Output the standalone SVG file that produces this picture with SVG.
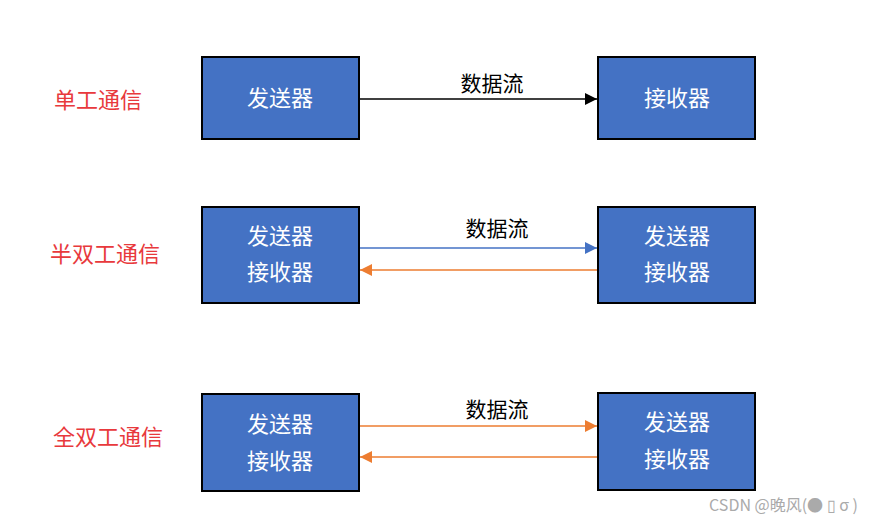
<svg xmlns="http://www.w3.org/2000/svg" width="873" height="524" viewBox="0 0 873 524">
<style>
.box{fill:#4472c4;stroke:#000;stroke-width:2}
.bt{font-family:"Noto Sans CJK SC",sans-serif;font-size:22px;fill:#fff;text-anchor:middle}
.lb{font-family:"Noto Sans CJK SC",sans-serif;font-size:22px;fill:#e8393c;text-anchor:middle}
.ft{font-family:"Noto Sans CJK SC",sans-serif;font-size:21px;fill:#000;text-anchor:middle}
</style>
<defs>
<marker id="mk" viewBox="0 0 10 10" refX="10" refY="5" markerWidth="12" markerHeight="12" markerUnits="userSpaceOnUse" orient="auto"><path d="M0,0L10,5L0,10z" fill="#000"/></marker>
<marker id="mb" viewBox="0 0 10 10" refX="10" refY="5" markerWidth="12" markerHeight="12" markerUnits="userSpaceOnUse" orient="auto"><path d="M0,0L10,5L0,10z" fill="#4472c4"/></marker>
<marker id="mo" viewBox="0 0 10 10" refX="10" refY="5" markerWidth="12" markerHeight="12" markerUnits="userSpaceOnUse" orient="auto"><path d="M0,0L10,5L0,10z" fill="#ed7d31"/></marker>
</defs>
<rect width="873" height="524" fill="#fff"/>
<text class="lb" x="98" y="108">单工通信</text>
<text class="lb" x="105" y="262">半双工通信</text>
<text class="lb" x="108" y="445">全双工通信</text>
<g id="s1"><rect class="box" x="202" y="57" width="157" height="82"/><text class="bt" x="280" y="106">发送器</text></g>
<g id="r1"><rect class="box" x="598" y="57" width="157" height="82"/><text class="bt" x="677" y="106">接收器</text></g>
<g id="s2"><rect class="box" x="202" y="207" width="157" height="96"/><text class="bt" x="280" y="244">发送器</text><text class="bt" x="280" y="280">接收器</text></g>
<g id="r2"><rect class="box" x="598" y="207" width="157" height="96"/><text class="bt" x="677" y="244">发送器</text><text class="bt" x="677" y="280">接收器</text></g>
<g id="s3"><rect class="box" x="202" y="394" width="157" height="97"/><text class="bt" x="280" y="432">发送器</text><text class="bt" x="280" y="469">接收器</text></g>
<g id="r3"><rect class="box" x="598" y="393" width="157" height="97"/><text class="bt" x="677" y="430">发送器</text><text class="bt" x="677" y="467">接收器</text></g>
<g id="connectors" stroke-width="1.3">
<line x1="360" y1="99" x2="597" y2="99" stroke="#000" marker-end="url(#mk)"/>
<line x1="360" y1="248" x2="597" y2="248" stroke="#4472c4" marker-end="url(#mb)"/>
<line x1="597" y1="270" x2="360" y2="270" stroke="#ed7d31" marker-end="url(#mo)"/>
<line x1="360" y1="426" x2="597" y2="426" stroke="#ed7d31" marker-end="url(#mo)"/>
<line x1="597" y1="457" x2="360" y2="457" stroke="#ed7d31" marker-end="url(#mo)"/>
</g>
<text class="ft" x="492" y="91">数据流</text>
<text class="ft" x="497" y="236">数据流</text>
<text class="ft" x="497" y="417">数据流</text>
<text x="858" y="511" font-family="'Noto Sans CJK SC',sans-serif" font-size="16" fill="#aaa" text-anchor="end">CSDN @晚风(● ▯ σ )</text>
</svg>
